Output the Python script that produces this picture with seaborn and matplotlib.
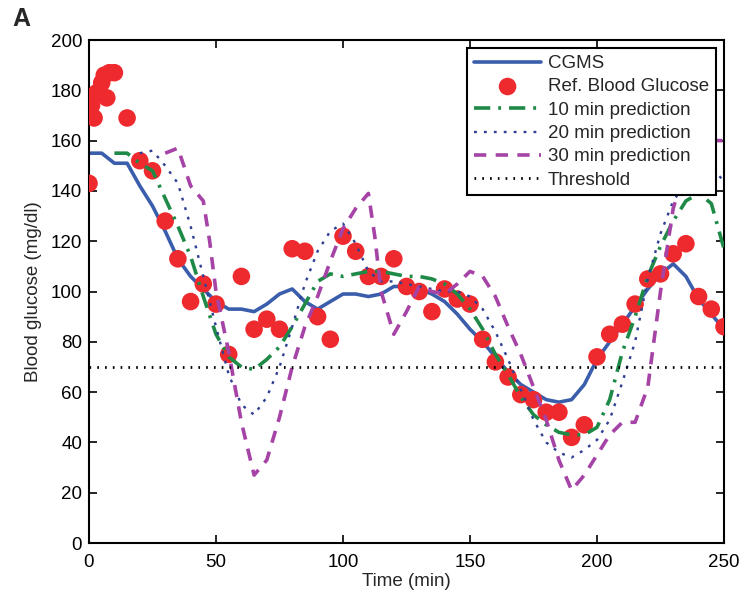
import numpy as np
import pandas as pd
import matplotlib
matplotlib.use("Agg")
import matplotlib.pyplot as plt
import seaborn as sns

# ---- data ----
cgms_t = [0, 5, 10, 15, 20, 25, 30, 35, 40, 45, 50, 55, 60, 65, 70, 75, 80, 85, 90, 95,
          100, 105, 110, 115, 120, 125, 130, 135, 140, 145, 150, 155, 160, 165, 170, 175,
          180, 185, 190, 195, 200, 205, 210, 215, 220, 225, 230, 235, 240, 245, 250]
cgms_g = [155, 155, 151, 151, 142, 134, 124, 113, 106, 101, 96, 93, 93, 92, 95, 99, 101, 96, 93, 96,
          99, 99, 98, 99, 102, 102, 101, 99, 96, 91, 85, 80, 74, 68, 63, 60,
          57, 56, 57, 63, 73, 80, 87, 94, 101, 107, 111, 106, 97, 91, 85]

ref_t = [0, 1, 2, 3, 5, 6, 7, 8, 10, 15, 20, 25, 30, 35, 40, 45, 50, 55, 60, 65, 70, 75, 80,
         85, 90, 95, 100, 105, 110, 115, 120, 125, 130, 135, 140, 145, 150, 155, 160, 165,
         170, 175, 180, 185, 190, 195, 200, 205, 210, 215, 220, 225, 230, 235, 240, 245, 250]
ref_g = [143, 174, 169, 179, 183, 186, 177, 187, 187, 169, 152, 148, 128, 113, 96, 103, 95, 75, 106, 85, 89, 85, 117,
         116, 90, 81, 122, 116, 106, 106, 113, 102, 100, 92, 101, 97, 95, 81, 72, 66,
         59, 57, 52, 52, 42, 47, 74, 83, 87, 95, 105, 107, 115, 119, 98, 93, 86]

p10_t = [10, 15, 20, 25, 30, 35, 40, 45, 50, 55, 60, 65, 70, 75, 80, 85, 90, 95, 100, 105,
         110, 115, 120, 125, 130, 135, 140, 145, 150, 155, 160, 165, 170, 175, 180, 185,
         190, 195, 200, 205, 210, 215, 220, 225, 230, 235, 240, 245, 250]
p10_g = [155, 155, 151, 148, 137, 126, 114, 98, 83, 74, 70, 69, 73, 78, 86, 95, 104, 107, 106, 107,
         108, 108, 107, 106, 106, 105, 103, 99, 93, 85, 75, 67, 58, 51, 47, 44,
         43, 43, 46, 57, 76, 90, 106, 118, 128, 136, 139, 135, 117]

p20_t = [20, 25, 30, 35, 40, 45, 50, 55, 60, 65, 70, 75, 80, 85, 90, 95, 100, 105, 110, 115,
         120, 125, 130, 135, 140, 145, 150, 155, 160, 165, 170, 175, 180, 185, 190, 195,
         200, 205, 210, 215, 220, 225, 230, 235, 240, 245, 250]
p20_g = [155, 156, 150, 143, 126, 106, 86, 67, 55, 51, 58, 70, 86, 103, 116, 124, 127, 119, 108, 104,
         104, 103, 102, 101, 100, 100, 98, 93, 84, 73, 61, 49, 40, 36, 34, 37,
         41, 49, 64, 80, 105, 123, 136, 143, 148, 149, 144]

p30_t = [30, 35, 40, 45, 47.5, 50, 55, 60, 65, 70, 75, 80, 85, 90, 95, 100, 105, 110, 112.5,
         115, 120, 125, 130, 135, 140, 145, 150, 155, 160, 165, 170, 175, 180, 185, 190,
         195, 200, 205, 210, 215, 220, 225, 230, 235, 240, 245, 250]
p30_g = [155, 157, 142, 136, 120, 100, 76, 48, 27, 33, 50, 70, 86, 98, 112, 125, 133, 139, 122,
         100, 83, 92, 102, 100, 99, 103, 108, 106, 98, 86, 75, 62, 49, 33, 21,
         27, 35, 43, 48, 48, 62, 100, 133, 150, 158, 160, 160]

threshold = 70
thr_t = [0, 250]

labels = ["CGMS", "Ref. Blood Glucose", "10 min prediction", "20 min prediction",
          "30 min prediction", "Threshold"]
x_ticks = [0, 50, 100, 150, 200, 250]
y_ticks = list(range(0, 201, 20))

# ---- style ----
sns.set_style("ticks")
plt.rcParams["font.family"] = ["Liberation Sans", "DejaVu Sans"]
FS = 13.5

fig = plt.figure(figsize=(7.44, 5.97), dpi=100)
ax = fig.add_axes([89 / 744, 1 - 543 / 597, (724 - 89) / 744, (543 - 40) / 597])

sns.lineplot(x=cgms_t, y=cgms_g, ax=ax, color="#3a5eab", linewidth=2.6,
             label=labels[0], sort=False)
sns.scatterplot(x=ref_t, y=ref_g, ax=ax, color="#ee2a2e", s=160, edgecolor="none",
                label=labels[1], zorder=3)
sns.lineplot(x=p10_t, y=p10_g, ax=ax, color="#1f8a47", linewidth=2.6,
             linestyle=(0, (4.5, 2.2, 0.8, 2.2)), label=labels[2], sort=False, zorder=4)
sns.lineplot(x=p20_t, y=p20_g, ax=ax, color="#2e3f94", linewidth=1.7,
             linestyle=(0, (1.2, 3)), label=labels[3], sort=False, zorder=4)
sns.lineplot(x=p30_t, y=p30_g, ax=ax, color="#a543a6", linewidth=2.6,
             linestyle=(0, (3.4, 2.6)), label=labels[4], sort=False, zorder=4)
sns.lineplot(x=thr_t, y=[threshold, threshold], ax=ax, color="black", linewidth=2.0,
             linestyle=(0, (0.6, 2.2)), label=labels[5], sort=False, zorder=4)

ax.set_xlim(0, 250)
ax.set_ylim(0, 200)
ax.set_xticks(x_ticks)
ax.set_yticks(y_ticks)
ax.tick_params(direction="in", top=True, right=True, length=6, width=1.2,
               labelsize=FS, colors="black", pad=5)
ax.tick_params(axis="x", pad=8)
for sp in ax.spines.values():
    sp.set_visible(True)
    sp.set_linewidth(1.5)
    sp.set_color("black")
ax.set_xlabel("Time (min)", fontsize=FS, labelpad=1)
ax.set_ylabel("Blood glucose (mg/dl)", fontsize=FS, labelpad=6)

leg = ax.legend(loc="upper right", fontsize=FS, frameon=True, fancybox=False,
                edgecolor="black", framealpha=1, handlelength=3.6, handletextpad=0.35,
                borderpad=0.35, labelspacing=0.33, borderaxespad=0.45)
leg.get_frame().set_linewidth(1.5)

fig.text(12 / 744, 1 - 19 / 597, "A", fontsize=18, fontweight="bold", va="center", ha="left")

fig.savefig("out.png", dpi=100)
